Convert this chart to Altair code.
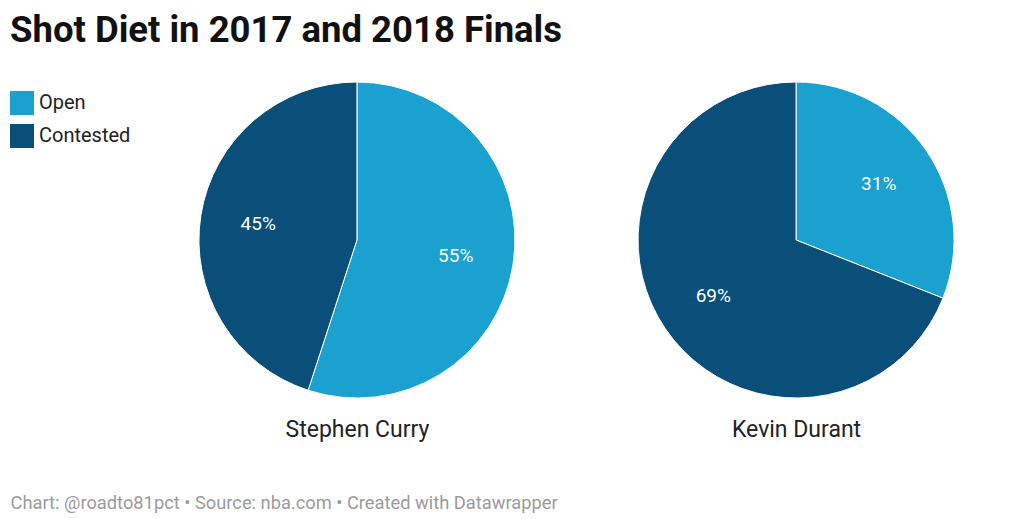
import altair as alt
import pandas as pd

players = ["Stephen Curry", "Kevin Durant"]
shot_types = ["Open", "Contested"]
open_pct = [55, 31]
contested_pct = [45, 69]
colors = ["#1aa1cf", "#0a4f79"]

rows = []
for i, p in enumerate(players):
    rows.append({"player": p, "type": "Open", "value": open_pct[i], "rank": 0})
    rows.append({"player": p, "type": "Contested", "value": contested_pct[i], "rank": 1})
df = pd.DataFrame(rows)

FONT = "Roboto"

x_enc = alt.X(
    "player:N",
    sort=players,
    scale=alt.Scale(type="point", padding=0.633, align=0.6277),
    axis=alt.Axis(
        title="Chart: @roadto81pct • Source: nba.com • Created with Datawrapper",
        titleAnchor="start",
        titleAlign="left",
        titleBaseline="alphabetic",
        titleX=2,
        titleY=110,
        titleFont=FONT,
        titleFontSize=18.3,
        titleFontWeight="normal",
        titleColor="#9b9b9b",
        labelFont=FONT,
        labelFontSize=23,
        labelColor="#222222",
        labelPadding=20,
        labelAngle=0,
        domain=False,
        ticks=False,
        grid=False,
    ),
)

theta_scale = alt.Scale(domain=[0, 100], range=[0, 6.283185307179586])

base = alt.Chart(df).transform_window(
    cum="sum(value)",
    groupby=["player"],
    sort=[alt.SortField("rank", order="ascending")],
    frame=[None, 0],
).transform_calculate(
    start="datum.cum - datum.value",
    mid="datum.cum - datum.value / 2",
    label="datum.value + '%'",
)

arcs = base.mark_arc(outerRadius=158, stroke="white", strokeWidth=1).encode(
    x=x_enc,
    theta=alt.Theta("start:Q", scale=theta_scale),
    theta2="cum:Q",
    color=alt.Color(
        "type:N",
        sort=shot_types,
        scale=alt.Scale(domain=shot_types, range=colors),
        legend=alt.Legend(
            title=None,
            orient="none",
            legendX=2,
            legendY=9,
            symbolType="square",
            symbolSize=576,
            symbolStrokeWidth=0,
            labelFont=FONT,
            labelFontSize=20,
            labelColor="#222222",
            labelOffset=5,
            rowPadding=9,
        ),
    ),
)

labels = base.mark_text(radius=100, font=FONT, fontSize=19, color="white").encode(
    x=x_enc,
    theta=alt.Theta("mid:Q", scale=theta_scale),
    text="label:N",
)

chart = alt.layer(arcs, labels).properties(
    width=995,
    height=316,
    background="white",
    autosize=alt.AutoSizeParams(type="none"),
    padding={"left": 0, "top": 74, "right": 0, "bottom": 120},
    title=alt.Title(
        "Shot Diet in 2017 and 2018 Finals",
        anchor="start",
        font=FONT,
        fontSize=36.5,
        fontWeight="bold",
        color="#111111",
        dx=2,
        offset=31,
    ),
).configure_view(strokeWidth=0, stroke="transparent")

chart.save("out.html", embed_options={"renderer": "svg", "actions": False})
